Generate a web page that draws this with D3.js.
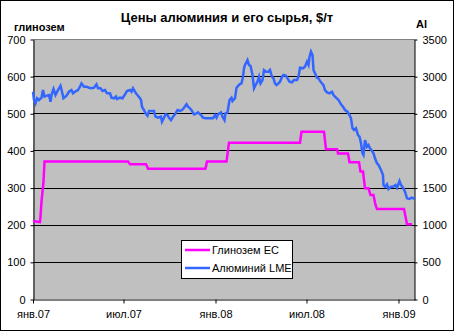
<!DOCTYPE html>
<html>
<head>
<meta charset="utf-8">
<script src="https://cdnjs.cloudflare.com/ajax/libs/d3/7.8.5/d3.min.js"></script>
<style>
body { margin: 0; background: #fff; }
svg text { font-family: "Liberation Sans", Arial, sans-serif; }
</style>
</head>
<body>
<svg id="chart" width="454" height="331"></svg>
<script>

// Глинозем ЕС, $/т (левая ось)
var aluminaDates = ["2007-01-01","2007-01-11","2007-01-15","2007-01-16","2007-01-18","2007-01-22","2007-01-24",
    "2007-07-10","2007-07-14","2007-08-15","2007-08-19","2007-12-12","2007-12-15","2008-01-23","2008-01-26",
    "2008-01-28","2008-06-18","2008-06-21","2008-08-05","2008-08-09","2008-08-31","2008-09-02","2008-09-22",
    "2008-09-25","2008-10-14","2008-10-17","2008-10-22","2008-10-26","2008-11-02","2008-11-06","2008-11-12",
    "2008-11-16","2008-11-19","2009-01-12","2009-01-15","2009-01-18","2009-01-28"];
var aluminaValues = [210,208,207,222,262,316,370,
    370,363,363,351,351,370,370,401,
    421,421,450,450,403,403,392,392,
    368,368,343,343,298,298,280,280,
    253,242,242,222,201,201];

// Алюминий LME, $/т (правая ось)
var aluminiumDates = ["2007-01-01","2007-01-03","2007-01-06","2007-01-09","2007-01-13","2007-01-18","2007-01-21",
    "2007-01-24","2007-01-29","2007-02-02","2007-02-05","2007-02-07","2007-02-11","2007-02-15","2007-02-20",
    "2007-02-25","2007-02-28","2007-03-03","2007-03-09","2007-03-14","2007-03-19","2007-03-22","2007-03-28",
    "2007-04-01","2007-04-05","2007-04-08","2007-04-13","2007-04-18","2007-04-23","2007-04-28","2007-05-03",
    "2007-05-08","2007-05-11","2007-05-16","2007-05-20","2007-05-25","2007-05-29","2007-06-04","2007-06-07",
    "2007-06-12","2007-06-16","2007-06-18","2007-06-24","2007-06-29","2007-07-04","2007-07-08","2007-07-14",
    "2007-07-17","2007-07-20","2007-07-26","2007-07-30","2007-08-03","2007-08-05","2007-08-07","2007-08-11",
    "2007-08-14","2007-08-18","2007-08-21","2007-08-26","2007-08-31","2007-09-03","2007-09-08","2007-09-14",
    "2007-09-16","2007-09-20","2007-09-23","2007-09-27","2007-09-30","2007-10-04","2007-10-08","2007-10-12",
    "2007-10-17","2007-10-22","2007-10-26","2007-10-30","2007-11-04","2007-11-07","2007-11-11","2007-11-15",
    "2007-11-19","2007-11-24","2007-11-27","2007-12-03","2007-12-07","2007-12-12","2007-12-17","2007-12-23",
    "2007-12-27","2007-12-31","2008-01-03","2008-01-06","2008-01-12","2008-01-15","2008-01-19","2008-01-21",
    "2008-01-25","2008-01-29","2008-02-02","2008-02-04","2008-02-09","2008-02-12","2008-02-18","2008-02-22",
    "2008-02-25","2008-02-27","2008-02-29","2008-03-05","2008-03-08","2008-03-11","2008-03-15","2008-03-18",
    "2008-03-22","2008-03-25","2008-03-28","2008-03-31","2008-04-04","2008-04-07","2008-04-11","2008-04-16",
    "2008-04-19","2008-04-23","2008-04-26","2008-04-29","2008-05-02","2008-05-06","2008-05-09","2008-05-13",
    "2008-05-16","2008-05-21","2008-05-24","2008-05-28","2008-06-02","2008-06-06","2008-06-12","2008-06-15",
    "2008-06-18","2008-06-24","2008-06-28","2008-07-02","2008-07-05","2008-07-07","2008-07-10","2008-07-13",
    "2008-07-15","2008-07-18","2008-07-22","2008-07-25","2008-07-30","2008-08-04","2008-08-07","2008-08-11",
    "2008-08-16","2008-08-21","2008-08-24","2008-08-29","2008-09-03","2008-09-08","2008-09-12","2008-09-16",
    "2008-09-21","2008-09-25","2008-09-28","2008-10-01","2008-10-04","2008-10-08","2008-10-12","2008-10-15",
    "2008-10-18","2008-10-21","2008-10-23","2008-10-26","2008-10-30","2008-11-02","2008-11-05","2008-11-09",
    "2008-11-12","2008-11-15","2008-11-19","2008-11-22","2008-11-27","2008-12-01","2008-12-02","2008-12-05",
    "2008-12-09","2008-12-12","2008-12-17","2008-12-21","2008-12-26","2008-12-29","2009-01-03","2009-01-06",
    "2009-01-10","2009-01-14","2009-01-18","2009-01-23","2009-01-27","2009-01-31","2009-02-03"];
var aluminiumValues = [2790,2679,2634,2702,2679,2710,2813,
    2724,2737,2746,2656,2746,2827,2746,2813,
    2871,2790,2702,2737,2790,2813,2769,2800,
    2813,2858,2903,2858,2858,2844,2836,2844,
    2890,2836,2836,2800,2813,2769,2769,2710,
    2702,2724,2692,2710,2702,2755,2800,2813,
    2790,2836,2769,2737,2702,2679,2588,2544,
    2500,2467,2531,2531,2531,2454,2440,2454,
    2387,2440,2486,2477,2440,2409,2454,2486,
    2544,2531,2544,2575,2621,2588,2567,2531,
    2486,2500,2513,2477,2440,2432,2432,2432,
    2432,2477,2440,2486,2513,2454,2409,2500,
    2513,2679,2710,2665,2702,2844,2890,2903,
    2992,3105,3150,3217,3150,3140,3015,2836,
    2890,2925,2992,2903,2948,3082,3060,3060,
    3082,2992,2970,2903,2880,2903,2925,2992,
    3015,3006,2970,2925,2917,2948,2948,2992,
    3113,3105,3127,3194,3150,3261,3329,3284,
    3082,3038,2979,2970,2917,2880,2813,2782,
    2769,2790,2746,2710,2679,2621,2588,2544,
    2521,2477,2432,2298,2275,2298,2207,2185,
    2096,1961,1938,2140,2050,2073,2028,1992,
    1961,1894,1827,1804,1736,1669,1534,1511,
    1544,1481,1511,1511,1534,1498,1588,1534,
    1498,1444,1355,1346,1364,1355,1364];

var leftTicks = [0,100,200,300,400,500,600,700];
var rightTicks = [0,500,1000,1500,2000,2500,3000,3500];
var dateTicks = ["2007-01-01","2007-07-01","2008-01-01","2008-07-01","2009-01-01"];
var dateTickLabels = ["янв.07","июл.07","янв.08","июл.08","янв.09"];
var seriesNames = ["Глинозем ЕС","Алюминий LME"];
var seriesColors = ["#FF00FF","#3366FF"];

var parseDate = d3.timeParse("%Y-%m-%d");

var plot = {left: 33, right: 415, top: 39, bottom: 299};

var svg = d3.select("#chart");

var x = d3.scaleTime()
    .domain([parseDate("2007-01-01"), parseDate("2009-02-03")])
    .range([plot.left, plot.right]);
var yLeft = d3.scaleLinear().domain([0, 700]).range([plot.bottom, plot.top]);
var yRight = d3.scaleLinear().domain([0, 3500]).range([plot.bottom, plot.top]);

// chart border
svg.append("rect")
    .attr("x", 0.5).attr("y", 0.5)
    .attr("width", 453).attr("height", 330)
    .attr("fill", "#fff").attr("stroke", "#000");

// plot area
svg.append("rect")
    .attr("x", plot.left).attr("y", plot.top)
    .attr("width", plot.right - plot.left).attr("height", plot.bottom - plot.top)
    .attr("fill", "#C0C0C0");
svg.append("line")
    .attr("x1", plot.left).attr("x2", plot.right)
    .attr("y1", plot.top + 0.5).attr("y2", plot.top + 0.5)
    .attr("stroke", "#808080");

// gridlines
svg.append("g").selectAll("line")
    .data(leftTicks.filter(function(d) { return d > 0 && d < 700; }))
    .enter().append("line")
    .attr("x1", plot.left).attr("x2", plot.right)
    .attr("y1", function(d) { return Math.round(yLeft(d)) + 0.5; })
    .attr("y2", function(d) { return Math.round(yLeft(d)) + 0.5; })
    .attr("stroke", "#000");

// axes
var leftAxis = svg.append("g")
    .attr("transform", "translate(" + (plot.left + 0.5) + ",0.5)")
    .call(d3.axisLeft(yLeft).tickValues(leftTicks).tickFormat(d3.format("d"))
        .tickSize(3).tickPadding(5).tickSizeOuter(0));
var rightAxis = svg.append("g")
    .attr("transform", "translate(" + (plot.right - 0.5) + ",0.5)")
    .call(d3.axisRight(yRight).tickValues(rightTicks).tickFormat(d3.format("d"))
        .tickSize(3).tickPadding(5).tickSizeOuter(0));
var bottomAxis = svg.append("g")
    .attr("transform", "translate(0," + (plot.bottom + 0.5) + ")")
    .call(d3.axisBottom(x)
        .tickValues(dateTicks.map(parseDate))
        .tickFormat(function(d, i) { return dateTickLabels[i]; })
        .tickSize(4).tickPadding(7).tickSizeOuter(0));

[leftAxis, rightAxis, bottomAxis].forEach(function(a) {
    a.selectAll("path, line").attr("stroke", "#000").attr("stroke-width", 1);
    a.selectAll("text").attr("fill", "#000").style("font-size", "11px");
});

// series
var aluminaData = aluminaDates.map(function(d, i) { return {date: parseDate(d), value: aluminaValues[i]}; });
var aluminiumData = aluminiumDates.map(function(d, i) { return {date: parseDate(d), value: aluminiumValues[i]}; });

var lineLeft = d3.line()
    .x(function(d) { return x(d.date); })
    .y(function(d) { return yLeft(d.value); });
var lineRight = d3.line()
    .x(function(d) { return x(d.date); })
    .y(function(d) { return yRight(d.value); });

svg.append("path")
    .datum(aluminaData)
    .attr("d", lineLeft)
    .attr("fill", "none")
    .attr("stroke", seriesColors[0])
    .attr("stroke-width", 2.5)
    .attr("stroke-linejoin", "miter");

svg.append("path")
    .datum(aluminiumData)
    .attr("d", lineRight)
    .attr("fill", "none")
    .attr("stroke", seriesColors[1])
    .attr("stroke-width", 2.5)
    .attr("stroke-linejoin", "miter");

// titles
svg.append("text")
    .attr("x", 227).attr("y", 22)
    .attr("text-anchor", "middle")
    .style("font-size", "13px").style("font-weight", "bold")
    .text("Цены алюминия и его сырья, $/т");
svg.append("text")
    .attr("x", 14).attr("y", 31)
    .style("font-size", "11px").style("font-weight", "bold")
    .text("глинозем");
svg.append("text")
    .attr("x", 416).attr("y", 28)
    .style("font-size", "11px").style("font-weight", "bold")
    .text("Al");

// legend
var legend = svg.append("g").attr("transform", "translate(181,240)");
legend.append("rect")
    .attr("x", 0.5).attr("y", 0.5)
    .attr("width", 111).attr("height", 38)
    .attr("fill", "#fff").attr("stroke", "#000");
var item = legend.selectAll("g.item")
    .data(seriesNames)
    .enter().append("g")
    .attr("class", "item")
    .attr("transform", function(d, i) { return "translate(0," + (10 + i * 18) + ")"; });
item.append("line")
    .attr("x1", 4).attr("x2", 29)
    .attr("stroke", function(d, i) { return seriesColors[i]; })
    .attr("stroke-width", 2.5);
item.append("text")
    .attr("x", 31).attr("y", 4)
    .style("font-size", "11px")
    .text(function(d) { return d; });

</script>
</body>
</html>
